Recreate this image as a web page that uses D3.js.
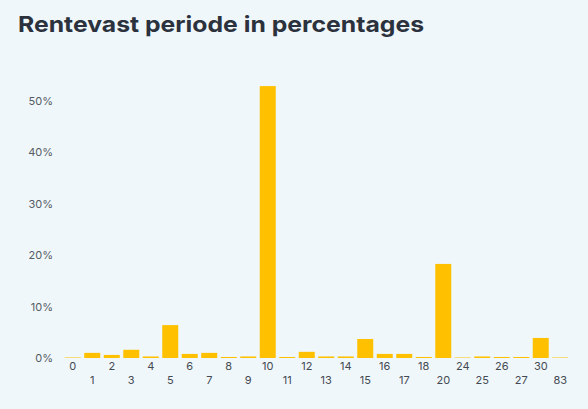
<!DOCTYPE html>
<html>
<head>
<meta charset="utf-8">
<script src="https://cdn.jsdelivr.net/npm/d3@7"></script>
<style>
  html, body { margin: 0; padding: 0; background: #f0f7fa; }
  svg { display: block; }
</style>
</head>
<body>
<div id="chart"></div>
<script>
var periods = ["0","1","2","3","4","5","6","7","8","9","10","11","12","13","14","15","16","17","18","20","24","25","26","27","30","83"];
var shares = [0.1, 1.0, 0.6, 1.6, 0.3, 6.4, 0.8, 1.0, 0.2, 0.3, 52.9, 0.2, 1.2, 0.3, 0.3, 3.7, 0.8, 0.8, 0.2, 18.3, 0.1, 0.3, 0.2, 0.2, 3.9, 0.1];
var yTicks = [0, 10, 20, 30, 40, 50];
var title = "Rentevast periode in percentages";

var width = 588, height = 409;
var margin = {top: 75, right: 18, bottom: 51, left: 63};

var svg = d3.select("#chart")
    .append("svg")
    .attr("width", width)
    .attr("height", height);

svg.append("rect")
    .attr("width", width)
    .attr("height", height)
    .attr("fill", "#f0f7fa");

var t = svg.append("text")
    .attr("x", 18)
    .attr("y", 32)
    .text(title)
    .attr("font-family", "Inter, 'Open Sans', sans-serif")
    .attr("font-weight", 700)
    .attr("font-size", 22)
    .attr("fill", "#2b323d");
// stretch to the reference width
t.attr("textLength", 406).attr("lengthAdjust", "spacingAndGlyphs");

var x = d3.scaleBand()
    .domain(periods)
    .range([margin.left, width - margin.right])
    .paddingInner(0.18)
    .paddingOuter(0.09);

var y = d3.scaleLinear()
    .domain([0, 55])
    .range([height - margin.bottom, height - margin.bottom - 55 * 5.14]);

var yAxis = svg.append("g")
    .attr("transform", "translate(" + (margin.left - 10) + ",0)")
    .call(d3.axisLeft(y).tickValues(yTicks).tickSize(0).tickPadding(0)
        .tickFormat(function (d) { return d + "%"; }));
yAxis.select(".domain").remove();
yAxis.selectAll("text")
    .attr("font-family", "Inter, 'Open Sans', sans-serif")
    .attr("font-size", 11)
    .attr("fill", "#555b63");

svg.append("g")
    .selectAll("rect")
    .data(shares)
    .enter()
    .append("rect")
    .attr("x", function (d, i) { return x(periods[i]); })
    .attr("width", x.bandwidth())
    .attr("y", function (d) { return y(d); })
    .attr("height", function (d) { return y(0) - y(d); })
    .attr("fill", "#ffc000");

var xAxis = svg.append("g")
    .attr("transform", "translate(0," + (height - margin.bottom) + ")")
    .call(d3.axisBottom(x).tickSize(0).tickPadding(0));
xAxis.select(".domain").remove();
xAxis.selectAll("text")
    .attr("y", function (d, i) { return i % 2 === 0 ? 4 : 18; })
    .attr("font-family", "Inter, 'Open Sans', sans-serif")
    .attr("font-size", 11)
    .attr("fill", "#444a52");
</script>
</body>
</html>
